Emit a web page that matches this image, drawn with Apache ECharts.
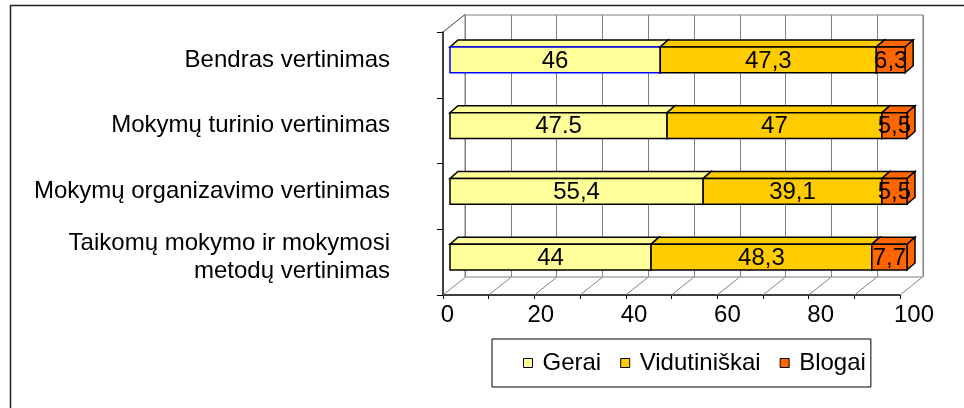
<!DOCTYPE html>
<html>
<head>
<meta charset="utf-8">
<script src="https://cdn.jsdelivr.net/npm/echarts@6/dist/echarts.min.js"></script>
<style>
html,body{margin:0;padding:0;background:#fff;}
#chart{width:964px;height:408px;}
</style>
</head>
<body>
<div id="chart"></div>
<script>
// ---- data ----
const categories = [
  'Bendras vertinimas',
  'Mokymų turinio vertinimas',
  'Mokymų organizavimo vertinimas',
  'Taikomų mokymo ir mokymosi\nmetodų vertinimas'
];
const gerai = [46, 47.5, 55.4, 44];
const vidutiniskai = [47.3, 47, 39.1, 48.3];
const blogai = [6.3, 5.5, 5.5, 7.7];
const geraiLabels = ['46', '47.5', '55,4', '44'];
const vidutiniskaiLabels = ['47,3', '47', '39,1', '48,3'];
const blogaiLabels = ['6,3', '5,5', '5,5', '7,7'];
const xTickLabels = [0, 20, 40, 60, 80, 100];
const seriesNames = ['Gerai', 'Vidutiniškai', 'Blogai'];

// ---- styling ----
const FONT = "'Liberation Sans', Arial, sans-serif";
const colors = ['#FFFF99', '#FFCC00', '#FF6600'];
const WALL_D = [22, -17.5];   // depth of the 3D box
const BAR_D = [8, -7];        // depth of each bar
const BAR_RATIO = 0.39;

const defs = [
  {name: seriesNames[0], values: gerai, labels: geraiLabels},
  {name: seriesNames[1], values: vidutiniskai, labels: vidutiniskaiLabels},
  {name: seriesNames[2], values: blogai, labels: blogaiLabels}
];

const cum = categories.map(() => 0);
const barSeries = defs.map((s, si) => {
  const data = s.values.map((v, i) => {
    const st = cum[i];
    cum[i] += v;
    return [st, st + v, i];
  });
  return {
    type: 'custom',
    name: s.name,
    xAxisIndex: 2,
    yAxisIndex: 2,
    z: 10,
    itemStyle: {color: colors[si]},
    encode: {x: [0, 1], y: 2},
    data: data,
    renderItem: function (params, api) {
      const st = api.value(0), en = api.value(1), ci = api.value(2);
      const p0 = api.coord([st, ci]);
      const p1 = api.coord([en, ci]);
      const bh = api.size([0, 1])[1] * BAR_RATIO;
      const yT = p0[1] - bh / 2, yB = p0[1] + bh / 2;
      const x0 = p0[0], x1 = p1[0];
      const dx = BAR_D[0], dy = BAR_D[1];
      const fill = colors[si];
      const frontStroke = (si === 0 && ci === 0) ? '#0000FF' : '#000';
      const lw = 1.5;
      return {
        type: 'group',
        children: [
          {type: 'polygon', shape: {points: [[x0, yT], [x1, yT], [x1 + dx, yT + dy], [x0 + dx, yT + dy]]},
           style: {fill: fill, stroke: '#000', lineWidth: lw}},
          {type: 'polygon', shape: {points: [[x1, yT], [x1 + dx, yT + dy], [x1 + dx, yB + dy], [x1, yB]]},
           style: {fill: fill, stroke: '#000', lineWidth: lw}},
          {type: 'rect', shape: {x: x0, y: yT, width: x1 - x0, height: bh},
           style: {fill: fill, stroke: frontStroke, lineWidth: lw}},
          {type: 'text', x: (x0 + x1) / 2, y: (yT + yB) / 2 + 1,
           style: {text: s.labels[params.dataIndex], fill: '#000', font: '24px ' + FONT, align: 'center', verticalAlign: 'middle'}}
        ]
      };
    }
  };
});

// floor diagonals + left wall top edge
const floorData = Array.from({length: 11}, (_, i) => [i * 10, 0]);
const floorSeries = {
  type: 'custom',
  xAxisIndex: 1,
  yAxisIndex: 1,
  z: 1,
  silent: true,
  data: floorData,
  renderItem: function (params, api) {
    const cs = params.coordSys;
    const x = api.coord([api.value(0), 0])[0];
    const yb = cs.y + cs.height;
    const children = [
      {type: 'line', shape: {x1: x, y1: yb, x2: x + WALL_D[0], y2: yb + WALL_D[1]},
       style: {stroke: '#808080', lineWidth: 1}}
    ];
    if (params.dataIndex === 0) {
      children.push({type: 'line', shape: {x1: cs.x, y1: cs.y, x2: cs.x + WALL_D[0], y2: cs.y + WALL_D[1]},
        style: {stroke: '#404040', lineWidth: 1}});
    }
    return {type: 'group', children: children};
  }
};

const chart = echarts.init(document.getElementById('chart'), null, {renderer: 'canvas'});
chart.setOption({
  backgroundColor: '#fff',
  animation: false,
  textStyle: {fontFamily: FONT},
  graphic: [{
    type: 'rect', silent: true, z: 0,
    shape: {x: 10.5, y: 5.5, width: 1000, height: 1000},
    style: {fill: 'none', stroke: '#222', lineWidth: 1.5}
  }],
  legend: {
    left: 492, top: 339,
    orient: 'horizontal',
    icon: 'rect',
    itemWidth: 9, itemHeight: 9, itemGap: 19,
    padding: [12, 5, 12, 31],
    borderColor: '#000', borderWidth: 1,
    itemStyle: {borderColor: '#000', borderWidth: 1},
    textStyle: {fontSize: 24, color: '#000', fontFamily: FONT, padding: [0, 0, 0, 5]},
    data: seriesNames
  },
  grid: [
    {left: 465, top: 15, width: 458, height: 262, show: true, borderColor: '#808080', borderWidth: 1, backgroundColor: 'transparent'},
    {left: 443, top: 32, width: 457, height: 263},
    {left: 450, top: 27, width: 457, height: 263},
    {left: 447.5, top: 32, width: 466.5, height: 263}
  ],
  xAxis: [
    {gridIndex: 0, type: 'value', min: 0, max: 100, interval: 10,
     axisLine: {show: false}, axisTick: {show: false}, axisLabel: {show: false},
     splitLine: {show: true, lineStyle: {color: '#808080', width: 1}}},
    {gridIndex: 1, type: 'value', min: 0, max: 100, interval: 10,
     axisLine: {show: true, lineStyle: {color: '#000', width: 1.5}},
     axisTick: {show: true, length: 4, lineStyle: {color: '#000', width: 1}},
     axisLabel: {show: false},
     splitLine: {show: false}},
    {gridIndex: 2, type: 'value', min: 0, max: 100, show: false},
    {gridIndex: 3, type: 'value', min: 0, max: 100, interval: 20,
     axisLine: {show: false}, axisTick: {show: false}, splitLine: {show: false},
     axisLabel: {formatter: v => xTickLabels.includes(v) ? String(v) : '', fontSize: 24, color: '#000', margin: 8, fontFamily: FONT}}
  ],
  yAxis: [
    {gridIndex: 0, type: 'category', data: categories, show: false},
    {gridIndex: 1, type: 'category', data: categories, inverse: true,
     axisLine: {show: true, lineStyle: {color: '#000', width: 1.5}},
     axisTick: {show: true, length: 6, lineStyle: {color: '#000'}},
     axisLabel: {show: false}, splitLine: {show: false}},
    {gridIndex: 2, type: 'category', data: categories, inverse: true,
     axisLine: {show: false}, axisTick: {show: false}, splitLine: {show: false},
     axisLabel: {fontSize: 24, color: '#000', margin: 60, align: 'right', lineHeight: 28, fontFamily: FONT}},
    {gridIndex: 3, type: 'category', data: categories, show: false}
  ],
  series: [floorSeries].concat(barSeries)
});
</script>
</body>
</html>
